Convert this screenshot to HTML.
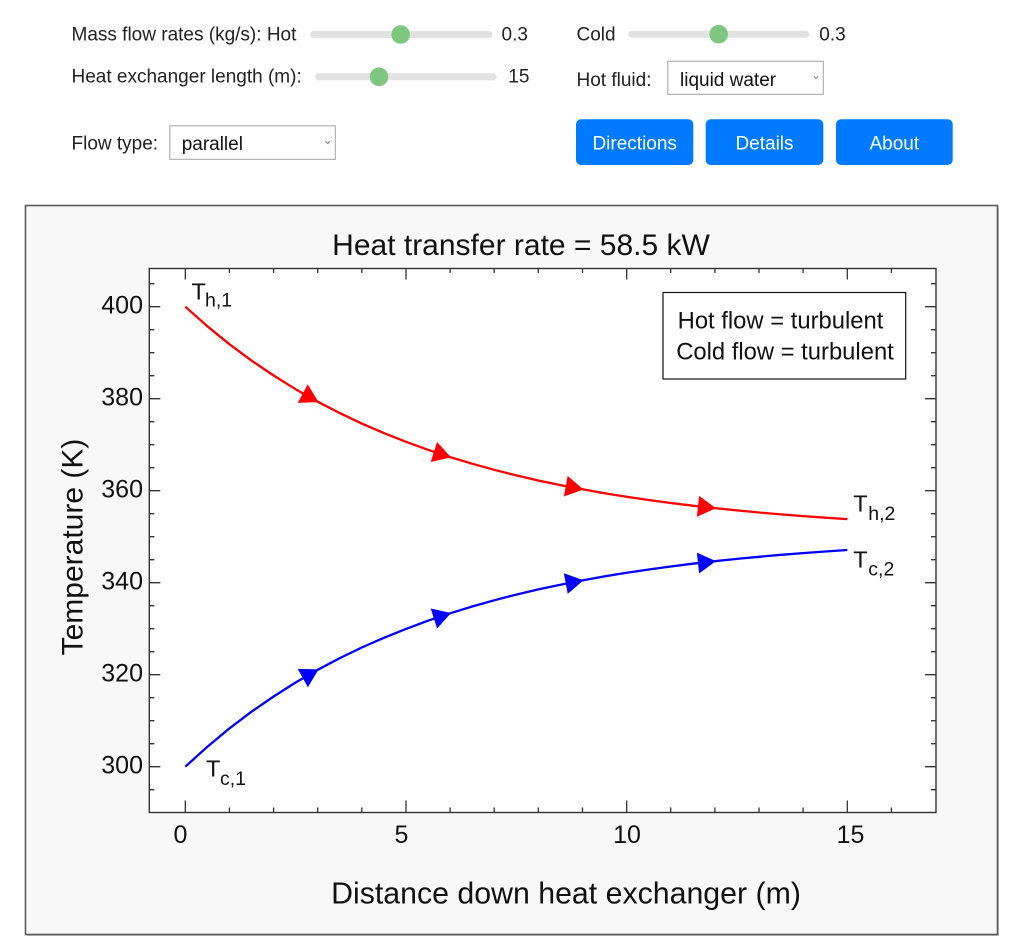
<!DOCTYPE html>
<html>
<head>
<meta charset="utf-8">
<style>
  html, body { margin:0; padding:0; background:#ffffff; }
  body { width:1024px; height:952px; overflow:hidden; }
  svg { display:block; }
  text { font-family: "Liberation Sans", "DejaVu Sans", sans-serif; }
</style>
</head>
<body>
<svg width="1024" height="952" viewBox="0 0 1024 952" xmlns="http://www.w3.org/2000/svg">
  <rect x="0" y="0" width="1024" height="952" fill="#ffffff"/>

  <!-- ===== Controls ===== -->
  <g font-size="19" fill="#222">
    <text x="71.5" y="40.7">Mass flow rates (kg/s): Hot</text>
    <text x="71.5" y="82.7">Heat exchanger length (m):</text>
    <text x="71.5" y="149.3">Flow type:</text>
    <text x="576.5" y="40.7">Cold</text>
    <text x="576.5" y="86">Hot fluid:</text>
    <text x="501.5" y="40.7">0.3</text>
    <text x="508.3" y="82.7">15</text>
    <text x="819.3" y="40.7">0.3</text>
  </g>

  <!-- sliders -->
  <rect x="310" y="31" width="182.3" height="7" rx="3.5" fill="#e2e2e2"/>
  <circle cx="400.7" cy="34.5" r="9.3" fill="#7fc781"/>
  <rect x="315" y="73.3" width="181.7" height="7" rx="3.5" fill="#e2e2e2"/>
  <circle cx="379" cy="76.8" r="9.3" fill="#7fc781"/>
  <rect x="628.3" y="30.7" width="181" height="7" rx="3.5" fill="#e2e2e2"/>
  <circle cx="718.7" cy="34.2" r="9.3" fill="#7fc781"/>

  <!-- selects -->
  <rect x="169.8" y="125.8" width="165.5" height="33.5" fill="#ffffff" stroke="#a3a3a3" stroke-width="1"/>
  <text x="181.7" y="150" font-size="19" fill="#111">parallel</text>
  <polyline points="325.5,141.3 327.7,143.5 329.9,141.3" fill="none" stroke="#777" stroke-width="1"/>

  <rect x="667.8" y="61.2" width="155.5" height="33.1" fill="#ffffff" stroke="#a3a3a3" stroke-width="1"/>
  <text x="680" y="86" font-size="19" fill="#111">liquid water</text>
  <polyline points="813.8,76.3 816,78.5 818.2,76.3" fill="none" stroke="#777" stroke-width="1"/>

  <!-- buttons -->
  <rect x="576" y="119.3" width="117.3" height="45.7" rx="5" fill="#007bff"/>
  <rect x="705.7" y="119.3" width="117.6" height="45.7" rx="5" fill="#007bff"/>
  <rect x="836" y="119.3" width="116.7" height="45.7" rx="5" fill="#007bff"/>
  <g font-size="19" fill="#ffffff" text-anchor="middle">
    <text x="634.7" y="149.3">Directions</text>
    <text x="764.5" y="149.3">Details</text>
    <text x="894.3" y="149.3">About</text>
  </g>

  <!-- ===== Chart panel ===== -->
  <rect x="27" y="207" width="972" height="729" fill="#c8c8c8"/>
  <rect x="25.5" y="205.5" width="972" height="729" fill="#f8f8f8" stroke="#5a5a5a" stroke-width="1.6"/>

  <!-- plot area -->
  <rect x="149.3" y="268.5" width="786.7" height="544" fill="#ffffff" stroke="#333" stroke-width="1.4"/>

  <!-- ticks -->
  <path fill="none" stroke="#333" stroke-width="1.3" d="
    M149.3 306.7h11 M149.3 398.7h11 M149.3 490.7h11 M149.3 582.7h11 M149.3 674.7h11 M149.3 766.7h11
    M149.3 283.7h5 M149.3 329.7h5 M149.3 352.7h5 M149.3 375.7h5 M149.3 421.7h5 M149.3 444.7h5 M149.3 467.7h5
    M149.3 513.7h5 M149.3 536.7h5 M149.3 559.7h5 M149.3 605.7h5 M149.3 628.7h5 M149.3 651.7h5
    M149.3 697.7h5 M149.3 720.7h5 M149.3 743.7h5 M149.3 789.7h5
    M936 306.7h-11 M936 398.7h-11 M936 490.7h-11 M936 582.7h-11 M936 674.7h-11 M936 766.7h-11
    M936 283.7h-5 M936 329.7h-5 M936 352.7h-5 M936 375.7h-5 M936 421.7h-5 M936 444.7h-5 M936 467.7h-5
    M936 513.7h-5 M936 536.7h-5 M936 559.7h-5 M936 605.7h-5 M936 628.7h-5 M936 651.7h-5
    M936 697.7h-5 M936 720.7h-5 M936 743.7h-5 M936 789.7h-5
    M185.3 812.5v-12 M406 812.5v-12 M626.7 812.5v-12 M847.3 812.5v-12
    M229.4 812.5v-5 M273.6 812.5v-5 M317.7 812.5v-5 M361.8 812.5v-5 M450.1 812.5v-5 M494.2 812.5v-5
    M538.3 812.5v-5 M582.5 812.5v-5 M670.7 812.5v-5 M714.9 812.5v-5 M759 812.5v-5 M803.1 812.5v-5 M891.4 812.5v-5
    M185.3 268.5v11 M406 268.5v11 M626.7 268.5v11 M847.3 268.5v11
    M229.4 268.5v4.5 M273.6 268.5v4.5 M317.7 268.5v4.5 M361.8 268.5v4.5 M450.1 268.5v4.5 M494.2 268.5v4.5
    M538.3 268.5v4.5 M582.5 268.5v4.5 M670.7 268.5v4.5 M714.9 268.5v4.5 M759 268.5v4.5 M803.1 268.5v4.5 M891.4 268.5v4.5
  "/>

  <!-- tick labels -->
  <g font-size="25" fill="#111" text-anchor="end">
    <text x="143" y="313.4">400</text>
    <text x="143" y="405.4">380</text>
    <text x="143" y="497.4">360</text>
    <text x="143" y="589.4">340</text>
    <text x="143" y="681.4">320</text>
    <text x="143" y="773.4">300</text>
  </g>
  <g font-size="25" fill="#111" text-anchor="middle">
    <text x="180.5" y="843">0</text>
    <text x="401.5" y="843">5</text>
    <text x="627" y="843">10</text>
    <text x="850.5" y="843">15</text>
  </g>

  <!-- title and axis labels -->
  <text x="521" y="255" font-size="30" fill="#111" text-anchor="middle">Heat transfer rate = 58.5 kW</text>
  <text x="566" y="903.5" font-size="30.3" fill="#111" text-anchor="middle">Distance down heat exchanger (m)</text>
  <text transform="translate(82.7,547) rotate(-90)" font-size="30" fill="#111" text-anchor="middle">Temperature (K)</text>

  <!-- legend box -->
  <rect x="663" y="292.5" width="242.7" height="86.5" fill="#ffffff" stroke="#111" stroke-width="1.2"/>
  <g font-size="23.8" fill="#111" text-anchor="middle">
    <text x="780.5" y="328.5">Hot flow = turbulent</text>
    <text x="785" y="359.5">Cold flow = turbulent</text>
  </g>

  <!-- hot curve -->
  <polyline fill="none" stroke="#ff0000" stroke-width="2.3" stroke-linejoin="round" points="
    185.3,306.7 207.4,326.3 229.4,344.2 251.5,360.6 273.6,375.5 295.6,389.2 317.7,401.7 339.8,413.1
    361.8,423.6 383.9,433.1 406.0,441.8 428.0,449.8 450.1,457.1 472.1,463.7 494.2,469.8 516.3,475.4
    538.3,480.5 560.4,485.1 582.5,489.3 604.5,493.2 626.6,496.8 648.7,500.0 670.7,503.0 692.8,505.7
    714.9,508.1 736.9,510.4 759.0,512.5 781.1,514.4 803.1,516.1 825.2,517.7 847.3,519.1"/>
  <!-- cold curve -->
  <polyline fill="none" stroke="#0000ff" stroke-width="2.3" stroke-linejoin="round" points="
    185.3,766.7 207.4,746.7 229.4,728.4 251.5,711.7 273.6,696.5 295.6,682.5 317.7,669.8 339.8,658.1
    361.8,647.5 383.9,637.8 406.0,628.9 428.0,620.7 450.1,613.3 472.1,606.5 494.2,600.3 516.3,594.6
    538.3,589.4 560.4,584.7 582.5,580.4 604.5,576.4 626.6,572.8 648.7,569.5 670.7,566.5 692.8,563.7
    714.9,561.2 736.9,558.9 759.0,556.8 781.1,554.8 803.1,553.1 825.2,551.5 847.3,550.0"/>

  <!-- arrowheads -->
  <g fill="#ff0000">
    <polygon points="1,0 -17,-10.5 -17,10.5" transform="translate(317.7,401.7) rotate(28.4)"/>
    <polygon points="1,0 -17,-10.5 -17,10.5" transform="translate(450.1,457.1) rotate(17.5)"/>
    <polygon points="1,0 -17,-10.5 -17,10.5" transform="translate(582.5,489.3) rotate(10.4)"/>
    <polygon points="1,0 -17,-10.5 -17,10.5" transform="translate(714.9,508.1) rotate(6.1)"/>
  </g>
  <g fill="#0000ff">
    <polygon points="1,0 -17,-10.5 -17,10.5" transform="translate(317.7,669.8) rotate(-28.9)"/>
    <polygon points="1,0 -17,-10.5 -17,10.5" transform="translate(450.1,613.3) rotate(-17.8)"/>
    <polygon points="1,0 -17,-10.5 -17,10.5" transform="translate(582.5,580.4) rotate(-10.6)"/>
    <polygon points="1,0 -17,-10.5 -17,10.5" transform="translate(714.9,561.2) rotate(-6.2)"/>
  </g>

  <!-- curve end labels -->
  <g fill="#111">
    <text x="191.5" y="299.3" font-size="23.5">T</text>
    <text x="205" y="306.7" font-size="19.5">h,1</text>
    <text x="853.3" y="511.7" font-size="23.5">T</text>
    <text x="868.3" y="520" font-size="19.5">h,2</text>
    <text x="853.3" y="567.7" font-size="23.5">T</text>
    <text x="868.3" y="575.5" font-size="19.5">c,2</text>
    <text x="206" y="776.7" font-size="23.5">T</text>
    <text x="220" y="785" font-size="19.5">c,1</text>
  </g>
</svg>
</body>
</html>
